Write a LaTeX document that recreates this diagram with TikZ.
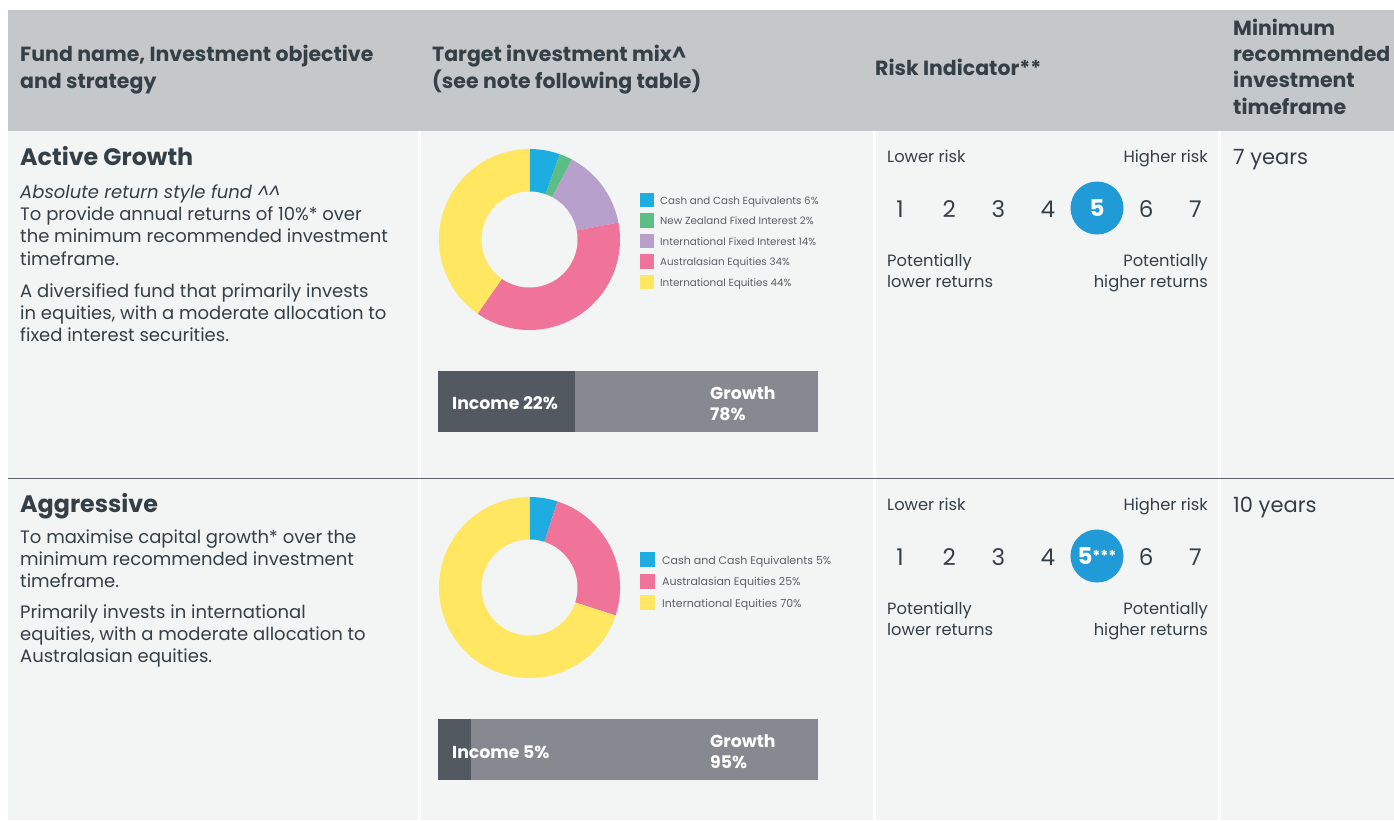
\documentclass[tikz,border=0pt]{standalone}
\usepackage{fontspec}
\setmainfont{Poppins}
\usepackage{tikz}

\definecolor{headgray}{HTML}{C5C8CB}
\definecolor{cellbg}{HTML}{F3F4F4}
\definecolor{ink}{HTML}{353F46}
\definecolor{leggray}{HTML}{5A6066}
\definecolor{rulegray}{HTML}{5B6167}
\definecolor{incomegray}{HTML}{525961}
\definecolor{growthgray}{HTML}{868A90}
\definecolor{riskblue}{HTML}{219BD8}
\definecolor{cashblue}{HTML}{1EADE1}
\definecolor{nzgreen}{HTML}{5BBF85}
\definecolor{fixlilac}{HTML}{B8A0CC}
\definecolor{auspink}{HTML}{F07399}
\definecolor{intyellow}{HTML}{FFE761}

% multi-line nodes sit on the baseline of their last line
\tikzstyle{headtxt}=[anchor=base west,inner sep=0,align=left,text=ink,font=\bfseries\fontsize{20.5}{26.3}\selectfont]
\tikzstyle{fundname}=[anchor=base west,inner sep=0,text=ink,font=\bfseries\fontsize{23.8}{26}\selectfont]
\tikzstyle{bodytxt}=[anchor=base west,inner sep=0,align=left,text=ink,font=\fontsize{18}{22.3}\selectfont]
\tikzstyle{timetxt}=[anchor=base west,inner sep=0,text=ink,font=\fontsize{21}{24}\selectfont]
\tikzstyle{legsq}=[inner sep=0,minimum size=14.5]
\tikzstyle{legtxt}=[anchor=base west,inner sep=0,text=leggray,font=\fontsize{10.3}{12}\selectfont]
\tikzstyle{barbox}=[anchor=north west,inner sep=0,minimum height=61]
\tikzstyle{bartxt}=[anchor=base west,inner sep=0,align=left,text=white,font=\bfseries\fontsize{17.3}{21}\selectfont]
\tikzstyle{risktxt}=[inner sep=0,text=ink,font=\fontsize{16.3}{21.5}\selectfont]
\tikzstyle{risknum}=[inner sep=0,text=ink,font=\fontsize{23}{23}\selectfont]
\tikzstyle{riskdot}=[circle,inner sep=0,minimum size=53,fill=riskblue,text=white,font=\bfseries\fontsize{23}{23}\selectfont]

\begin{document}
\begin{tikzpicture}[x=1pt,y=-1pt]
  \useasboundingbox (0,0) rectangle (1394,820);
  % table
  \fill[headgray] (8,10) rectangle (1394,131);
  \fill[cellbg] (8,131) rectangle (1394,820);
  \foreach \x in {419.5,874.5,1219.5}{
    \draw[white,line width=2.5pt] (\x,131) -- (\x,820);
  }
  \draw[rulegray,line width=1.8pt] (8,478.5) -- (1394,478.5);

  % header
  \node[headtxt] (hfund) at (20,88) {Fund name, Investment objective\\and strategy};
  \node[headtxt] (hmix) at (432,88) {Target investment mix\textasciicircum\\(see note following table)};
  \node[headtxt] (hrisk) at (875,75) {Risk Indicator**};
  \node[headtxt] (htime) at (1233,114) {Minimum\\recommended\\investment\\timeframe};

  % Active Growth
  \node[fundname] (agname) at (20,165) {Active Growth};
  \node[bodytxt] (agobj) at (20,265) {\textit{Absolute return style fund \textasciicircum\textasciicircum}\\To provide annual returns of 10\%* over\\the minimum recommended investment\\timeframe.};
  \node[bodytxt] (agstrat) at (20,341.6) {A diversified fund that primarily invests\\in equities, with a moderate allocation to\\fixed interest securities.};
  \node[timetxt] (agtime) at (1233,164) {7 years};

  \coordinate (donuta) at (529.5,239.5);
  \foreach \a/\b/\c in {-90/-70.5/cashblue,-70.5/-62/nzgreen,-62/-10.8/fixlilac,-10.8/125/auspink,125/270/intyellow}{
    \fill[\c] (donuta) -- ++(\a:90.5) arc[start angle=\a,end angle=\b,radius=90.5] -- cycle;
  }
  \fill[cellbg] (donuta) circle[radius=48];
  \foreach \i/\c/\t in {1/cashblue/Cash and Cash Equivalents 6\%,2/nzgreen/New Zealand Fixed Interest 2\%,3/fixlilac/International Fixed Interest 14\%,4/auspink/Australasian Equities 34\%,5/intyellow/International Equities 44\%}{
    \node[legsq,fill=\c] (la\i) at (647,{200+20.5*(\i-1)}) {};
    \node[legtxt] (lta\i) at (660,{204+20.5*(\i-1)}) {\t};
  }
  \node[barbox,fill=incomegray,minimum width=137] (inca) at (438,371) {};
  \node[barbox,fill=growthgray,minimum width=243] (growa) at (575,371) {};
  \node[bartxt] (incta) at (452,409) {Income 22\%};
  \node[bartxt] (growta) at (710,420) {Growth\\78\%};

  % Aggressive
  \node[fundname] (agrname) at (20,512) {Aggressive};
  \node[bodytxt] (agrobj) at (20,587.6) {To maximise capital growth* over the\\minimum recommended investment\\timeframe.};
  \node[bodytxt] (agrstrat) at (20,662.6) {Primarily invests in international\\equities, with a moderate allocation to\\Australasian equities.};
  \node[timetxt] (agrtime) at (1233,512) {10 years};

  \coordinate (donutb) at (529.5,587.5);
  \foreach \a/\b/\c in {-90/-72/cashblue,-72/18/auspink,18/270/intyellow}{
    \fill[\c] (donutb) -- ++(\a:90.5) arc[start angle=\a,end angle=\b,radius=90.5] -- cycle;
  }
  \fill[cellbg] (donutb) circle[radius=48];
  \foreach \i/\c/\t in {1/cashblue/Cash and Cash Equivalents 5\%,2/auspink/Australasian Equities 25\%,3/intyellow/International Equities 70\%}{
    \node[legsq,fill=\c,minimum size=15] (lb\i) at (647.5,{559.5+21.5*(\i-1)}) {};
    \node[legtxt,font=\fontsize{11}{12}\selectfont] (ltb\i) at (662,{564+21.5*(\i-1)}) {\t};
  }
  \node[barbox,fill=incomegray,minimum width=33] (incb) at (438,719) {};
  \node[barbox,fill=growthgray,minimum width=347] (growb) at (471,719) {};
  \node[bartxt] (inctb) at (452,758) {Income 5\%};
  \node[bartxt] (growtb) at (710,768) {Growth\\95\%};

  % risk scales
  \foreach \r/\dy/\lab in {a/0/{5},b/348/{5\raisebox{3pt}{\fontsize{15}{15}\selectfont***}}}{
    \node[risktxt,anchor=base west] (\r-low) at (887,{162+\dy}) {Lower risk};
    \node[risktxt,anchor=base east] (\r-high) at (1208,{162+\dy}) {Higher risk};
    \foreach \n in {1,2,3,4,6,7}
      \node[risknum] (\r\n) at ({900+(\n-1)*49.25},{209+\dy}) {\n};
    \node[riskdot] (\r5) at (1097,{208+\dy}) {\lab};
    \node[risktxt,anchor=base west,align=left] (\r-lowret) at (887,{287.5+\dy}) {Potentially\\lower returns};
    \node[risktxt,anchor=base east,align=right] (\r-highret) at (1208,{287.5+\dy}) {Potentially\\higher returns};
  }
\end{tikzpicture}
\end{document}
